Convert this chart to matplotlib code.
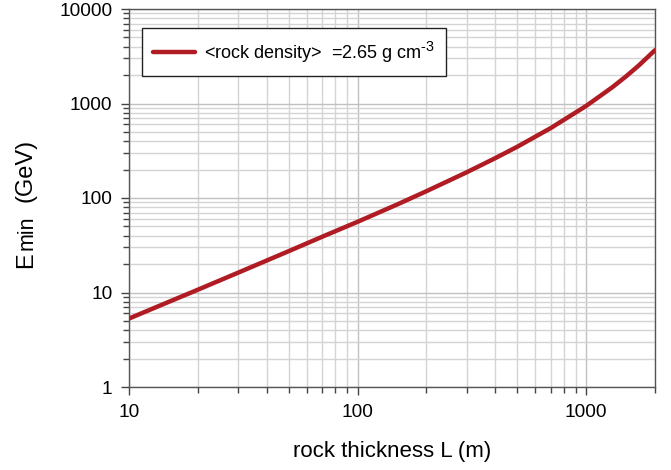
import matplotlib
matplotlib.use('Agg')
import matplotlib.pyplot as plt
import matplotlib._mathtext as mathtext
from matplotlib.ticker import LogLocator, NullFormatter, FixedLocator, FixedFormatter

# rock thickness (m) and minimum muon energy (GeV)
thickness = [10, 15, 20, 30, 50, 70, 100, 150, 200, 300, 400, 500, 700,
             1000, 1300, 1500, 1700, 2000]
e_min = [5.3, 8.0, 10.7, 16.2, 27.4, 38.9, 56, 86, 118, 187, 264, 349, 550,
         943, 1483, 1952, 2531, 3666]
x_ticks = [10, 100, 1000]
y_ticks = [1, 10, 100, 1000, 10000]
legend_label = '<rock density>  =2.65 g cm$^{\\text{-3}}$'

plt.rcParams['font.family'] = ['Liberation Sans', 'DejaVu Sans']
plt.rcParams['mathtext.fontset'] = 'custom'
plt.rcParams['mathtext.rm'] = 'Liberation Sans'
plt.rcParams['mathtext.it'] = 'Liberation Sans'
plt.rcParams['mathtext.default'] = 'rm'
# superscript in the original is bigger than the mathtext default
mathtext.SHRINK_FACTOR = 0.8

W, H = 671, 470
fig = plt.figure(figsize=(W / 100, H / 100), dpi=100)
ax = fig.add_axes([129 / W, 1 - 387 / H, 526 / W, 378 / H])

ax.plot(thickness, e_min, color='#b01c24', lw=3.2, label=legend_label,
        solid_capstyle='round', zorder=3)

ax.set_xscale('log')
ax.set_yscale('log')
ax.set_xlim(10, 2000)
ax.set_ylim(1, 10000)

ax.xaxis.set_major_locator(FixedLocator(x_ticks))
ax.xaxis.set_major_formatter(FixedFormatter([str(t) for t in x_ticks]))
ax.xaxis.set_minor_locator(LogLocator(base=10, subs=range(2, 10)))
ax.xaxis.set_minor_formatter(NullFormatter())
ax.yaxis.set_major_locator(FixedLocator(y_ticks))
ax.yaxis.set_major_formatter(FixedFormatter([str(t) for t in y_ticks]))
ax.yaxis.set_minor_locator(LogLocator(base=10, subs=range(2, 10)))
ax.yaxis.set_minor_formatter(NullFormatter())

ax.grid(True, which='major', color='#c0c0c0', lw=1.0)
ax.grid(True, which='minor', color='#d4d4d4', lw=1.0)
ax.set_axisbelow(True)

ax.tick_params(which='major', direction='out', length=6, width=1,
               color='#444444', labelsize=13.7, pad=6)
ax.tick_params(which='minor', direction='out', length=4, width=1,
               color='#444444')
for side in ['left', 'bottom', 'top', 'right']:
    ax.spines[side].set_color('#555555')
    ax.spines[side].set_linewidth(1.0)

ax.set_xlabel('rock thickness L (m)', fontsize=16, labelpad=15)

# y label built from pieces so "min" sits almost on the baseline of "E"
# (text, font size, start measured in pixels from the top, baseline x)
pieces = [('E', 17, 268, 32), ('min', 15.5, 250, 32.5), ('(GeV)', 17, 202, 32)]
for txt, size, start, xb in pieces:
    fig.text(xb / W, 1 - start / H, txt, fontsize=size, rotation=90,
             rotation_mode='anchor', ha='left', va='baseline')

leg = ax.legend(loc='upper left', bbox_to_anchor=(13 / 526, 1 - 19 / 378),
                fontsize=13, frameon=True, fancybox=False,
                handlelength=2.3, borderpad=0.62, handletextpad=0.5,
                borderaxespad=0)
leg.get_frame().set_edgecolor('#222222')
leg.get_frame().set_linewidth(1.0)
leg.get_frame().set_alpha(1.0)

fig.savefig('out.png', dpi=100)
plt.close('all')
